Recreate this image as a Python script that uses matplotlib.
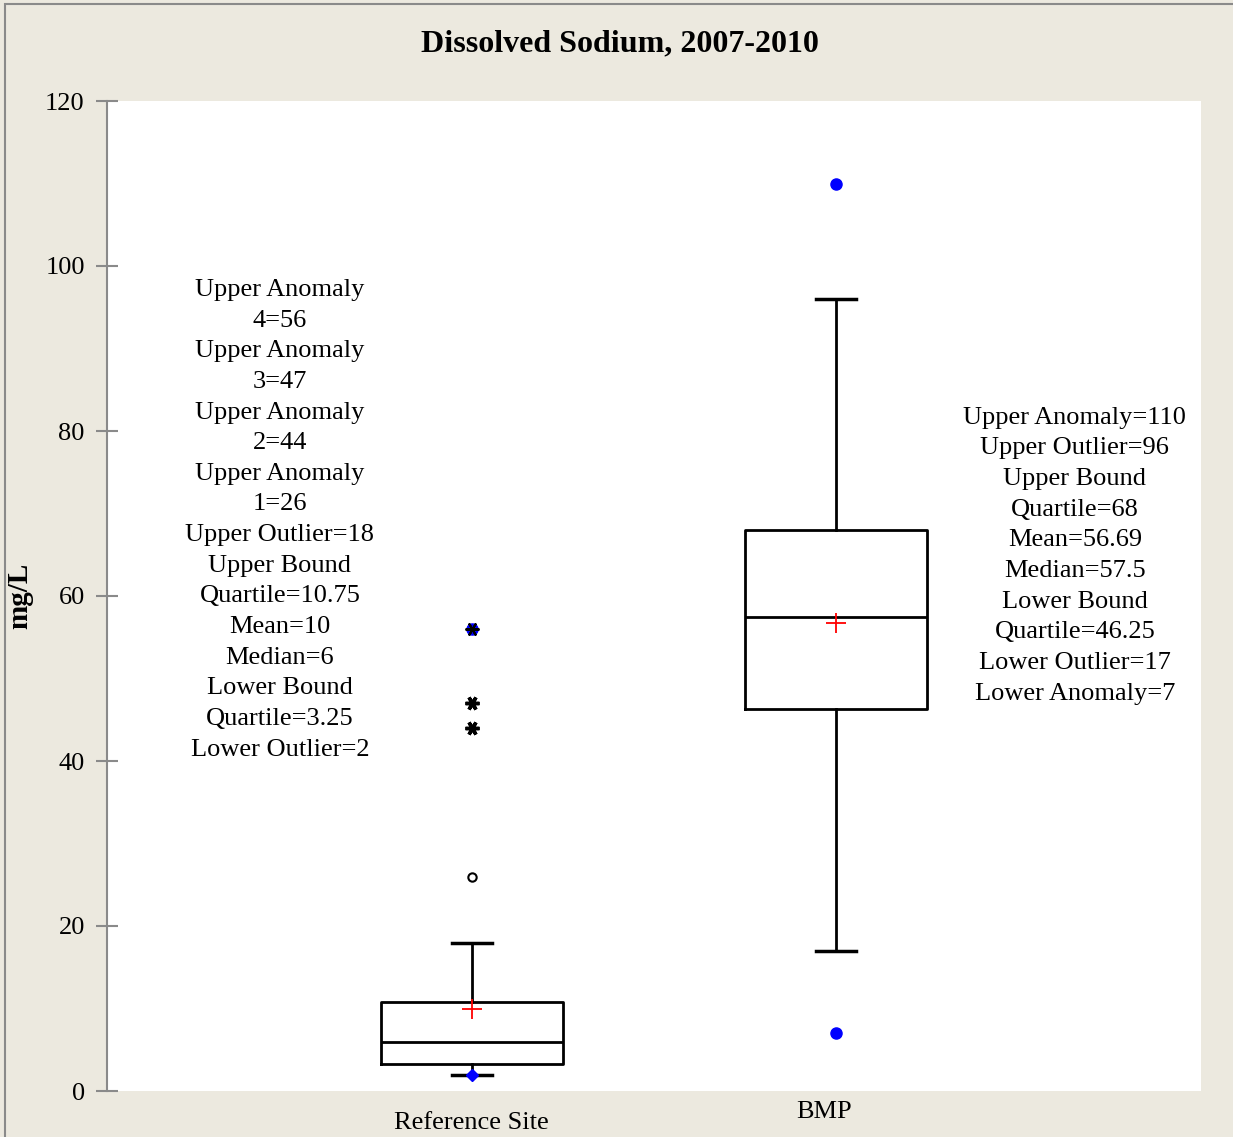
import matplotlib.pyplot as plt
from matplotlib.patches import Rectangle

plt.rcParams['font.family'] = ['Liberation Serif', 'DejaVu Serif']

# summary statistics per site
sites = ['Reference Site', 'BMP']
lower_whisker = [2, 17]
q1 = [3.25, 46.25]
median = [6, 57.5]
mean = [10, 56.69]
q3 = [10.75, 68]
upper_whisker = [18, 96]

# points beyond the whiskers
ref_circle = [26]
ref_star = [44, 47]
ref_blue = [56]
ref_low = [2]
bmp_anomaly = [110, 7]

ref_notes = ['Upper Anomaly', '4=56', 'Upper Anomaly', '3=47', 'Upper Anomaly',
             '2=44', 'Upper Anomaly', '1=26', 'Upper Outlier=18', 'Upper Bound',
             'Quartile=10.75', 'Mean=10', 'Median=6', 'Lower Bound',
             'Quartile=3.25', 'Lower Outlier=2']
bmp_notes = ['Upper Anomaly=110', 'Upper Outlier=96', 'Upper Bound', 'Quartile=68',
             'Mean=56.69', 'Median=57.5', 'Lower Bound', 'Quartile=46.25',
             'Lower Outlier=17', 'Lower Anomaly=7']

bg = '#ECE9DF'
fig = plt.figure(figsize=(12.33, 11.37), dpi=100, facecolor=bg)
ax = fig.add_axes([107 / 1233, 1 - 1091 / 1137, 1094 / 1233, 990 / 1137])
fig.patches.append(Rectangle((5 / 1233, -0.01), 1.1, 1 - 4 / 1137 + 0.01,
                             transform=fig.transFigure, fill=False,
                             edgecolor='#8a8a8a', linewidth=1.5))

stats = []
for i, name in enumerate(sites):
    stats.append(dict(label=name, whislo=lower_whisker[i], q1=q1[i], med=median[i],
                      q3=q3[i], whishi=upper_whisker[i], mean=mean[i]))

positions = [1, 2]
ax.bxp(stats, positions=positions, widths=0.5, showfliers=False, showmeans=True,
       patch_artist=False,
       boxprops=dict(color='black', linewidth=2),
       medianprops=dict(color='black', linewidth=2),
       whiskerprops=dict(color='black', linewidth=2),
       capprops=dict(color='black', linewidth=2.5),
       capwidths=0.11,
       meanprops=dict(marker='+', markeredgecolor='red', markersize=15,
                      markeredgewidth=1.3))

ax.plot([1] * len(ref_circle), ref_circle, 'o', mfc='white', mec='black',
        ms=6, mew=1.5)
ax.plot([1] * len(ref_star), ref_star, ls='none', marker=(6, 2, 90),
        color='black', ms=10, mew=2.5)
ax.plot([1] * len(ref_blue), ref_blue, 'o', color='blue', ms=8)
ax.plot([1] * len(ref_blue), ref_blue, ls='none', marker=(6, 2, 90),
        color='black', ms=10, mew=1.5)
ax.plot([1] * len(ref_low), ref_low, 'D', color='blue', ms=6)
ax.plot([2] * len(bmp_anomaly), bmp_anomaly, 'o', color='blue', ms=8)

ax.set_xlim(0, 3)
ax.set_ylim(0, 120)
ax.set_yticks(range(0, 121, 20))
ax.set_xticks([])
ax.tick_params(axis='y', direction='inout', length=16, width=1.5,
               color='#8a8a8a', labelsize=19, pad=8)
for s in ['top', 'right', 'bottom']:
    ax.spines[s].set_visible(False)
ax.spines['left'].set_color('#8a8a8a')
ax.spines['left'].set_linewidth(1.5)

# category labels under the plot area
ax.text(1, -2.6, sites[0], ha='center', va='top', fontsize=19)
ax.text(1.966, -1.2, sites[1], ha='center', va='top', fontsize=19)

ax.set_ylabel('mg/L', fontsize=21, fontweight='bold')
ax.yaxis.set_label_coords(-0.0676, 0.5)
fig.text(620 / 1233, 1 - 44 / 1137, 'Dissolved Sodium, 2007-2010', ha='center',
         va='center', fontsize=23, fontweight='bold')

# annotation blocks, one line at a time
line_px = 30.65
for j, line in enumerate(ref_notes):
    ax.annotate(line, xy=(0.474, 97.1), xytext=(0, -j * line_px * 0.72),
                textcoords='offset points', ha='center', va='center', fontsize=19)
for j, line in enumerate(bmp_notes):
    ax.annotate(line, xy=(2.654, 81.6), xytext=(0, -j * line_px * 0.72),
                textcoords='offset points', ha='center', va='center', fontsize=19)

fig.savefig('out.png', dpi=100, facecolor=bg)
